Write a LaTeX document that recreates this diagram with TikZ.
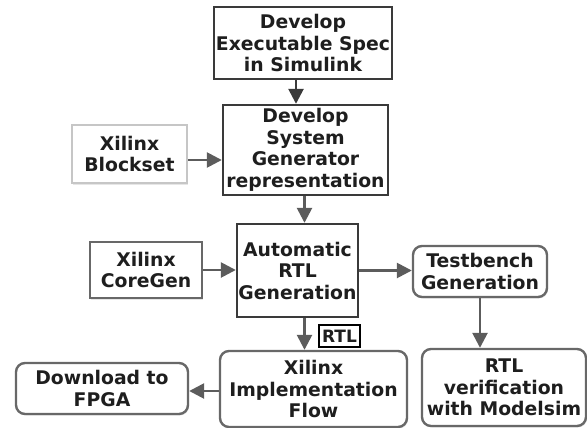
\documentclass[tikz,border=0pt]{standalone}
\usepackage{fontspec}
\setmainfont{DejaVu Sans}
\usetikzlibrary{arrows.meta,shadows}
\definecolor{txt}{HTML}{1E1E1E}
\definecolor{dk}{HTML}{3A3A3A}
\definecolor{ar}{HTML}{5C5C5C}
\definecolor{rb}{HTML}{686868}
\tikzset{
  lbl/.style={font=\bfseries\fontsize{18.8}{21.5}\selectfont, text=txt, align=center, inner sep=0pt},
  sqbox/.style={lbl, draw=dk, line width=2.4pt, fill=white},
  srcbox/.style={lbl, draw=rb, line width=2.2pt, fill=white, drop shadow={shadow xshift=1pt, shadow yshift=-1.5pt, opacity=0.2}},
  rbox/.style={lbl, draw=rb, line width=2.4pt, rounded corners=9pt, fill=white, drop shadow={shadow xshift=1pt, shadow yshift=-1.5pt, opacity=0.2}},
  arr/.style={draw=ar, line width=2.6pt, -{Triangle[length=15pt,width=15pt]}},
  darr/.style={arr, draw=dk},
}
\begin{document}
\begin{tikzpicture}[x=1pt,y=-1pt]
\useasboundingbox (0,0) rectangle (587,428);
\node[sqbox, minimum width=178pt, minimum height=72pt] (b1) at (303,43) {Develop\\Executable Spec\\in Simulink};
\node[sqbox, minimum width=165pt, minimum height=90pt] (b2) at (305.5,150) {Develop\\System\\Generator\\representation};
\node[srcbox, draw=gray!45, minimum width=115pt, minimum height=58pt] (bs) at (129.5,154) {Xilinx\\Blockset};
\node[sqbox, minimum width=121pt, minimum height=93pt] (b3) at (297.5,270.5) {Automatic\\RTL\\Generation};
\node[srcbox, minimum width=112pt, minimum height=56pt] (cg) at (146,270) {Xilinx\\CoreGen};
\node[rbox, minimum width=134pt, minimum height=51pt] (tb) at (480,271.5) {Testbench\\Generation};
\node[rbox, minimum width=164pt, minimum height=77pt] (ver) at (504,387.5) {RTL\\verification\\with Modelsim};
\node[rbox, minimum width=187pt, minimum height=76pt] (impl) at (313.5,389) {Xilinx\\Implementation\\Flow};
\node[rbox, minimum width=172pt, minimum height=51pt] (dl) at (102,388.5) {Download to\\FPGA};
\node[lbl, draw=black, line width=1.6pt, font=\bfseries\fontsize{17}{20}\selectfont, minimum width=41pt, minimum height=22pt, fill=white] (rtl) at (339.5,336) {RTL};
\draw[darr] ([xshift=-7pt]b1.south) -- ([xshift=-7pt]b1.south |- b2.north);
\draw[arr] ([yshift=-6pt]bs.east) -- ([yshift=-6pt]bs.east -| b2.west);
\draw[arr] ([xshift=-1pt]b2.south) -- ([xshift=-1pt]b2.south |- b3.north);
\draw[arr] (cg.east) -- (cg.east -| b3.west);
\draw[arr] (b3.east) -- (b3.east -| tb.west);
\draw[arr] (tb.south) -- (tb.south |- ver.north);
\draw[arr] ([xshift=-1pt]b3.south -| b2.south) -- ([xshift=-1pt]b2.south |- impl.north);
\draw[arr] ([yshift=-2pt]impl.west) -- ([yshift=-2pt]impl.west -| dl.east);
\end{tikzpicture}
\end{document}
